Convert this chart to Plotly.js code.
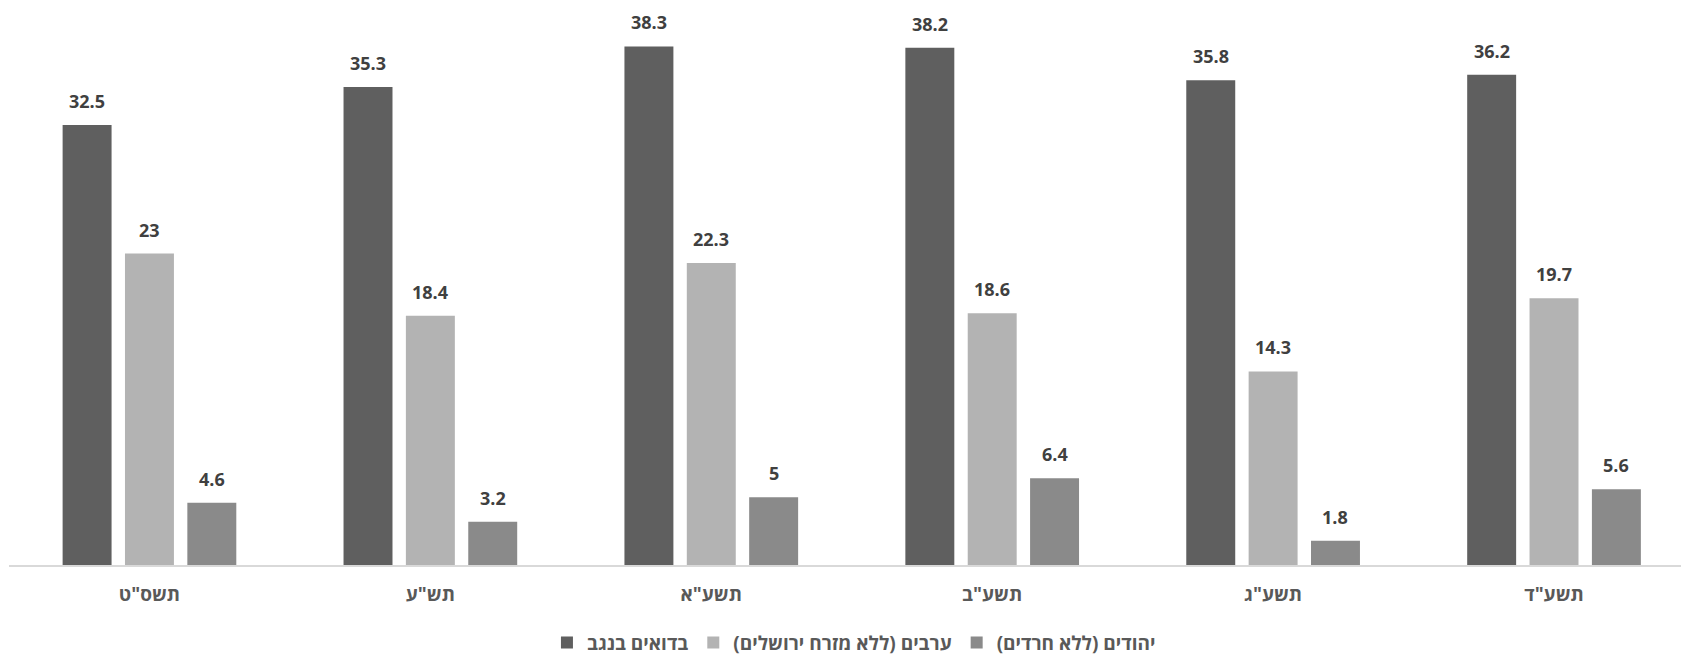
<!DOCTYPE html>
<html>
<head>
<meta charset="utf-8">
<script src="https://cdn.plot.ly/plotly-3.0.1.min.js"></script>
<style>html,body{margin:0;padding:0;background:#fff;}#chart{width:1681px;height:657px;}</style>
</head>
<body>
<div id="chart"></div>
<script>
var categories = ['תשס"ט', 'תש"ע', 'תשע"א', 'תשע"ב', 'תשע"ג', 'תשע"ד'];
var seriesNames = ['בדואים בנגב', 'ערבים (ללא מזרח ירושלים)', 'יהודים (ללא חרדים)'];
var bedouin = [32.5, 35.3, 38.3, 38.2, 35.8, 36.2];
var arabs = [23, 18.4, 22.3, 18.6, 14.3, 19.7];
var jews = [4.6, 3.2, 5, 6.4, 1.8, 5.6];

var colors = ['#5f5f5f', '#b3b3b3', '#8a8a8a'];
var allSeries = [bedouin, arabs, jews];
var FONT = '"Open Sans", "Liberation Sans", "DejaVu Sans", sans-serif';

var traces = allSeries.map(function (vals, s) {
  return {
    type: 'bar',
    name: '<b>' + seriesNames[s] + '</b>',
    x: categories,
    y: vals,
    marker: {color: colors[s]},
    hoverinfo: 'none'
  };
});

var bargap = 0.334, bargroupgap = 0.215;
var slot = (1 - bargap) / 3;
var annotations = [];
allSeries.forEach(function (vals, s) {
  vals.forEach(function (v, i) {
    annotations.push({
      xref: 'x', yref: 'y',
      x: i + (s - 1) * slot,
      y: v,
      text: '<b>' + String(v) + '</b>',
      showarrow: false,
      yanchor: 'bottom',
      yshift: 10,
      font: {family: FONT, size: 18, color: '#404040', weight: 'bold'}
    });
  });
});

var layout = {
  width: 1681, height: 657,
  margin: {l: 9, r: 0, t: 0, b: 92, pad: 0},
  paper_bgcolor: '#ffffff', plot_bgcolor: '#ffffff',
  barmode: 'group',
  bargap: bargap, bargroupgap: bargroupgap,
  showlegend: true,
  legend: {
    orientation: 'h',
    xref: 'container', yref: 'container',
    x: 0.508, xanchor: 'center',
    y: 0.022, yanchor: 'middle',
    font: {family: FONT, size: 19, color: '#595959', weight: 'bold'},
    itemclick: false, itemdoubleclick: false
  },
  xaxis: {
    type: 'category',
    range: [-0.5, 5.452],
    showline: true, linecolor: '#d9d9d9', linewidth: 2,
    showgrid: false, zeroline: false,
    ticks: '',
    tickvals: categories,
    ticktext: categories.map(function (c) { return '<b>' + c + '</b>'; }),
    ticklabelstandoff: 11,
    tickfont: {family: FONT, size: 19, color: '#595959', weight: 'bold'},
    fixedrange: true
  },
  yaxis: {
    range: [0, 41.73],
    visible: false,
    showgrid: false, zeroline: false,
    fixedrange: true
  },
  annotations: annotations
};

Plotly.newPlot('chart', traces, layout, {displayModeBar: false, staticPlot: true});
</script>
</body>
</html>
